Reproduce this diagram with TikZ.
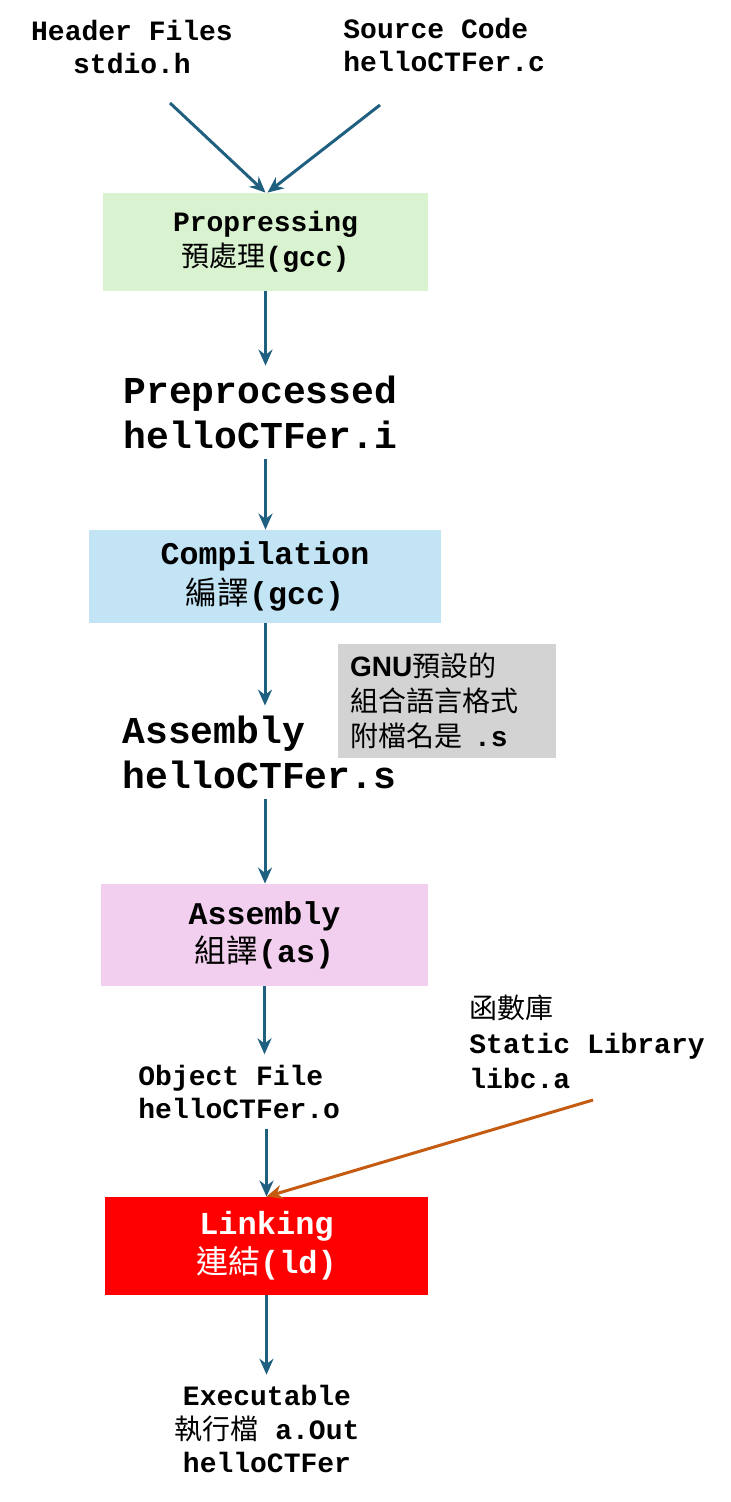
\documentclass[tikz,border=0pt]{standalone}
\usepackage{fontspec}
\setmainfont{Liberation Mono}
\newfontfamily\cjk{Noto Sans CJK TC}
\newfontfamily\gnusans{Liberation Sans}
\usetikzlibrary{arrows.meta, positioning}
\definecolor{flowblue}{RGB}{31,96,128}
\definecolor{libarrow}{RGB}{197,90,17}
\definecolor{preg}{RGB}{217,242,208}
\definecolor{compb}{RGB}{194,228,245}
\definecolor{asmp}{RGB}{242,207,238}
\definecolor{notegray}{RGB}{211,211,211}
\newcommand{\zh}[1]{{\cjk\mdseries #1}}
\tikzset{
  stage/.style={inner sep=0pt, align=center, font=\bfseries\fontsize{14}{17.5}\selectfont},
  label14/.style={inner xsep=0pt, inner ysep=5pt, font=\bfseries\fontsize{14}{16.5}\selectfont},
  label19/.style={inner xsep=0pt, inner ysep=5pt, align=left, font=\bfseries\fontsize{19}{22.5}\selectfont},
  flow/.style={draw=flowblue, line width=1.5pt, -{Stealth[length=8pt,width=7pt]}},
  libflow/.style={draw=libarrow, line width=1.5pt, -{Stealth[length=8pt,width=7pt]}},
}
\begin{document}
\begin{tikzpicture}[x=0.5pt, y=-0.5pt]
\useasboundingbox (0,0) rectangle (730,1502);
% inputs
\node[label14, align=center] (hdr) at (132,46.5) {Header Files\\stdio.h};
\node[label14, align=left, anchor=west] (src) at (343,44.5) {Source Code\\helloCTFer.c};
\coordinate (hdrtail) at (170,103);
\coordinate (srctail) at (380,105);
% stages
\node[stage, fill=preg, minimum width=162.5pt, minimum height=49pt] (pre) at (265.5,242)
  {Propressing\\\zh{預處理}(gcc)};
\node[label19, anchor=west] (ppi) at (123,412.5) {Preprocessed\\helloCTFer.i};
\node[stage, fill=compb, minimum width=176pt, minimum height=46.5pt,
  font=\bfseries\fontsize{15.8}{20}\selectfont] (comp) at (265,576.5)
  {Compilation\\\zh{編譯}(gcc)};
\node[fill=notegray, minimum width=109pt, minimum height=57pt, inner xsep=6pt,
  align=left, text width=97pt, font=\fontsize{14}{17.5}\selectfont] (note) at (447,701)
  {{\gnusans\bfseries GNU}\zh{預設的}\\\zh{組合語言格式}\\\zh{附檔名是}\hspace{6pt}\textbf{.s}};
\node[label19, anchor=west] (asms) at (122,752.5) {Assembly\\helloCTFer.s};
\node[stage, fill=asmp, minimum width=163.5pt, minimum height=51pt,
  font=\bfseries\fontsize{15.8}{19}\selectfont] (asm) at (264.5,935)
  {Assembly\\\zh{組譯}(as)};
\node[label14, align=left, anchor=west] (obj) at (138,1091.5) {Object File\\helloCTFer.o};
\node[label14, align=left, anchor=west, font=\bfseries\fontsize{14}{17.5}\selectfont] (lib) at (469,1042)
  {\zh{函數庫}\\Static Library\\libc.a};
\coordinate (libtail) at (593,1100);
\node[stage, fill=red, text=white, minimum width=161.5pt, minimum height=49pt,
  font=\bfseries\fontsize{16}{19.5}\selectfont] (link) at (266.5,1246)
  {Linking\\\zh{連結}(ld)};
\node[label14, align=center, font=\bfseries\fontsize{14}{16.8}\selectfont] (exe) at (267,1429)
  {Executable\\\zh{執行檔} a.Out\\helloCTFer};
% connectors
\draw[flow] (hdrtail) -- (pre.north);
\draw[flow] (srctail) -- ([xshift=1pt]pre.north);
\draw[flow] (pre.south) -- (pre.south |- ppi.north);
\draw[flow] (pre.south |- ppi.south) -- (pre.south |- comp.north);
\draw[flow] (comp.south) -- (comp.south |- asms.north);
\draw[flow] (comp.south |- asms.south) -- (comp.south |- asm.north);
\draw[flow] (asm.south) -- (asm.south |- obj.north);
\draw[flow] (link.north |- obj.south) -- (link.north);
\draw[libflow] (libtail) -- (link.north);
\draw[flow] (link.south) -- (link.south |- exe.north);
\end{tikzpicture}
\end{document}
